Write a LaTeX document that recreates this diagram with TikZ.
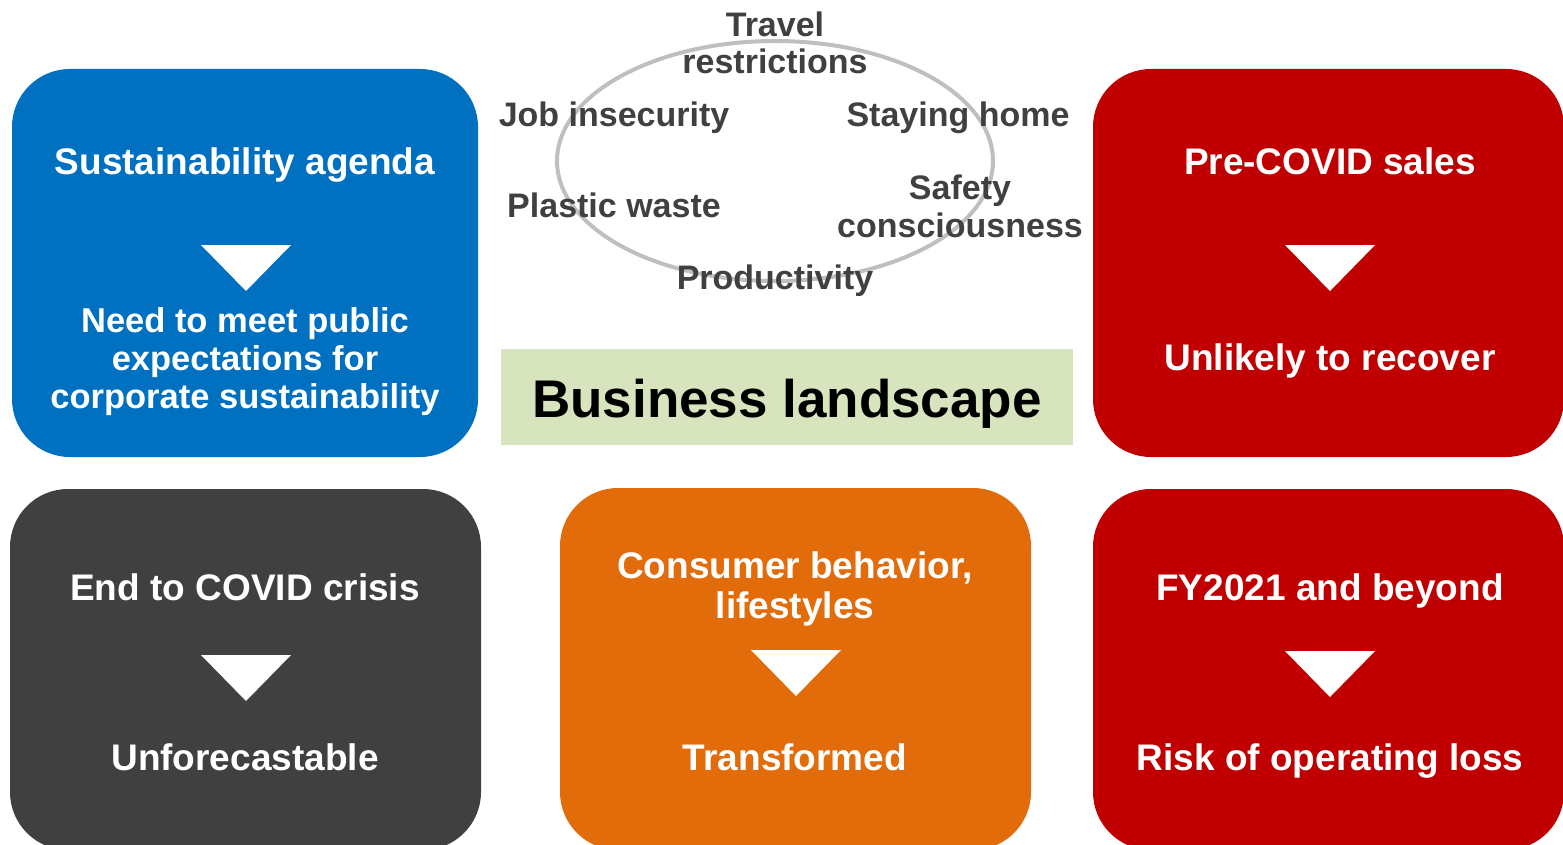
\documentclass[tikz,border=0pt]{standalone}
\usepackage{fontspec}
\setmainfont{Liberation Sans}
\definecolor{agendablue}{HTML}{0070C0}
\definecolor{crisisgray}{HTML}{404040}
\definecolor{lifeorange}{HTML}{E36C0A}
\definecolor{salesred}{HTML}{C00000}
\definecolor{landgreen}{HTML}{D7E4BD}
\definecolor{ringgray}{HTML}{BFBFBF}
\definecolor{wordgray}{HTML}{404040}
% white down-pointing wedge, #1 = midpoint of its top edge
\newcommand{\pointer}[1]{\fill[white] (#1) ++(-45,0) -- ++(90,0) -- ++(-45,46) -- cycle;}
\tikzset{
  card/.style={rounded corners=58pt, inner sep=0pt, minimum width=471pt},
  head/.style={text=white, font=\fontsize{37}{40}\selectfont\bfseries, align=center, anchor=base},
  small/.style={text=white, font=\fontsize{34.5}{38}\selectfont\bfseries, align=center, anchor=base},
  cue/.style={text=wordgray, font=\fontsize{34}{37.5}\selectfont\bfseries, align=center, anchor=base}
}
\begin{document}
\begin{tikzpicture}[x=1pt, y=-1pt, line join=round, line cap=round]
  \useasboundingbox (0,0) rectangle (1563,845);
  \clip (0,0) rectangle (1563,845);
  % the five cards
  \node[card, fill=agendablue, minimum width=466pt, minimum height=388pt] (sust) at (245,263) {};
  \node[card, fill=crisisgray, minimum height=361pt] (covid) at (245.5,669.5) {};
  \node[card, fill=lifeorange, minimum height=362pt] (life) at (795.5,669) {};
  \node[card, fill=salesred, minimum height=388pt] (sales) at (1328.5,263) {};
  \node[card, fill=salesred, minimum height=361pt] (fy) at (1328.5,669.5) {};
  % texts on the cards (base = last line)
  \node[head] (sustA) at (245,175) {Sustainability agenda};
  \node[small] (sustB) at (245,408) {Need to meet public\\expectations for\\corporate sustainability};
  \node[head] (covidA) at (245,600) {End to COVID crisis};
  \node[head] (covidB) at (245,770) {Unforecastable};
  \node[head] (lifeA) at (795,618) {Consumer behavior,\\lifestyles};
  \node[head] (lifeB) at (795,770) {Transformed};
  \node[head] (salesA) at (1330,175) {Pre-COVID sales};
  \node[head] (salesB) at (1330,370) {Unlikely to recover};
  \node[head] (fyA) at (1330,600) {FY2021 and beyond};
  \node[head] (fyB) at (1330,770) {Risk of operating loss};
  % wedges between the two lines
  \pointer{246,245}
  \pointer{246,655}
  \pointer{796,650}
  \pointer{1330,245}
  \pointer{1330,651}
  % centre panel
  \node[fill=landgreen, minimum width=572pt, minimum height=96pt, inner sep=0pt] (land) at (787,397) {};
  \node[font=\fontsize{53}{60}\selectfont\bfseries, anchor=base] (landT) at (787,417) {Business landscape};
  \draw[ringgray, line width=4pt] (775,161) ellipse (218 and 120);
  \node[cue] (travel) at (775,74) {Travel\\restrictions};
  \node[cue] (job) at (614,127) {Job insecurity};
  \node[cue] (home) at (958,127) {Staying home};
  \node[cue] (plastic) at (614,218) {Plastic waste};
  \node[cue] (safety) at (960,237) {Safety\\consciousness};
  \node[cue] (prod) at (775,289) {Productivity};
\end{tikzpicture}
\end{document}
